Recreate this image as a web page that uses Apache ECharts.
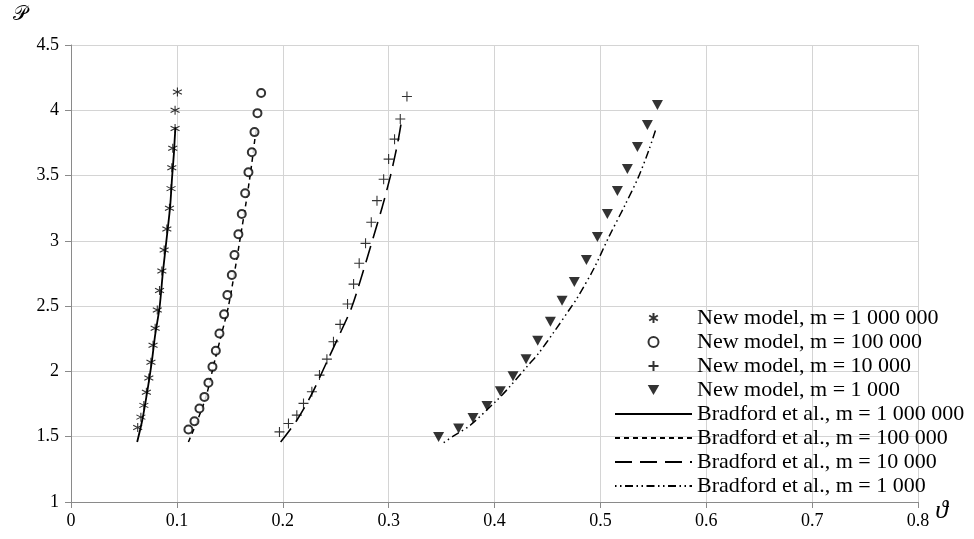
<!DOCTYPE html>
<html>
<head>
<meta charset="utf-8">
<script src="https://cdn.jsdelivr.net/npm/echarts@6/dist/echarts.min.js"></script>
<style>
  html, body { margin: 0; padding: 0; background: #fff; }
  #chart { width: 974px; height: 539px; }
</style>
</head>
<body>
<div id="chart"></div>
<script>
// Axis ticks
const xTicks = [0, 0.1, 0.2, 0.3, 0.4, 0.5, 0.6, 0.7, 0.8];
const yTicks = [1, 1.5, 2, 2.5, 3, 3.5, 4, 4.5];

// New model points (theta, P)
const star1e6Theta = [0.0630, 0.0660, 0.0688, 0.0712, 0.0735, 0.0755, 0.0775, 0.0795, 0.0815, 0.0836, 0.0858, 0.0880, 0.0905, 0.0930, 0.0945, 0.0952, 0.0961, 0.0983, 0.0983, 0.1005];
const star1e6P = [1.57, 1.65, 1.74, 1.84, 1.95, 2.07, 2.20, 2.33, 2.47, 2.62, 2.77, 2.93, 3.09, 3.25, 3.40, 3.56, 3.71, 3.86, 4.00, 4.14];

const circ1e5Theta = [0.1109, 0.1166, 0.1213, 0.1260, 0.1298, 0.1336, 0.1368, 0.1402, 0.1446, 0.1477, 0.1519, 0.1544, 0.1581, 0.1613, 0.1645, 0.1676, 0.1708, 0.1733, 0.1761, 0.1796];
const circ1e5P = [1.555, 1.619, 1.716, 1.805, 1.913, 2.035, 2.158, 2.291, 2.437, 2.585, 2.739, 2.892, 3.051, 3.206, 3.365, 3.526, 3.679, 3.833, 3.978, 4.132];

const plus1e4Theta = [0.1969, 0.2054, 0.2133, 0.2196, 0.2275, 0.2347, 0.2417, 0.2479, 0.2542, 0.2612, 0.2669, 0.2722, 0.2782, 0.2836, 0.2890, 0.2953, 0.3000, 0.3056, 0.3110, 0.3173];
const plus1e4P = [1.537, 1.601, 1.665, 1.755, 1.844, 1.972, 2.094, 2.227, 2.360, 2.516, 2.669, 2.828, 2.981, 3.143, 3.308, 3.472, 3.626, 3.779, 3.933, 4.106];

const tri1e3Theta = [0.3472, 0.3661, 0.3797, 0.3929, 0.4055, 0.4175, 0.4298, 0.4408, 0.4528, 0.4638, 0.4754, 0.4868, 0.4972, 0.5066, 0.5161, 0.5255, 0.5350, 0.5444, 0.5539];
const tri1e3P = [1.498, 1.563, 1.644, 1.736, 1.849, 1.964, 2.094, 2.235, 2.380, 2.541, 2.685, 2.853, 3.029, 3.205, 3.381, 3.550, 3.719, 3.888, 4.041];

// Bradford et al. curves (theta, P)
const brad1e6Theta = [0.0625, 0.0673, 0.0715, 0.0763, 0.0795, 0.0837, 0.0868, 0.0905, 0.0936, 0.0955, 0.0972, 0.0980, 0.0987];
const brad1e6P = [1.46, 1.626, 1.82, 2.074, 2.28, 2.495, 2.76, 3.03, 3.26, 3.49, 3.67, 3.787, 3.87];

const brad1e5Theta = [0.1109, 0.1195, 0.1280, 0.1355, 0.1420, 0.1486, 0.1545, 0.1600, 0.1647, 0.1690, 0.1720, 0.1738, 0.1755];
const brad1e5P = [1.46, 1.626, 1.82, 2.074, 2.28, 2.495, 2.76, 3.03, 3.26, 3.49, 3.67, 3.787, 3.87];

const brad1e4Theta = [0.1980, 0.2133, 0.2270, 0.2417, 0.2535, 0.2653, 0.2757, 0.2857, 0.2940, 0.3015, 0.3065, 0.3094, 0.3122];
const brad1e4P = [1.46, 1.626, 1.82, 2.074, 2.28, 2.495, 2.76, 3.032, 3.26, 3.49, 3.67, 3.787, 3.92];

const brad1e3Theta = [0.3520, 0.3614, 0.3771, 0.4023, 0.4143, 0.4313, 0.4411, 0.4559, 0.4711, 0.4779, 0.4940, 0.5080, 0.5230, 0.5360, 0.5460, 0.5530];
const brad1e3P = [1.455, 1.506, 1.588, 1.780, 1.882, 2.043, 2.133, 2.299, 2.478, 2.560, 2.790, 3.030, 3.270, 3.490, 3.700, 3.870];

const names = [
  'New model, m = 1 000 000',
  'New model, m = 100 000',
  'New model, m = 10 000',
  'New model, m = 1 000',
  'Bradford et al., m = 1 000 000',
  'Bradford et al., m = 100 000',
  'Bradford et al., m = 10 000',
  'Bradford et al., m = 1 000'
];

const pairs = (xs, ys) => xs.map((x, i) => [x, ys[i]]);

const serif = "'Liberation Serif', 'DejaVu Serif', serif";
const axisGray = '#8a8a8a';
const gridGray = '#d4d4d4';

const asterisk = 'path://M0,-5L0,5M-4.33,-2.5L4.33,2.5M-4.33,2.5L4.33,-2.5';
const plusMark = 'path://M-5,0L5,0M0,-5L0,5';
const downTri = 'path://M0,0L10,0L5,8.66Z';

// legend entries for the curves show only the stroke
const lineEntry = name => ({ name, itemStyle: { opacity: 0 } });

const chart = echarts.init(document.getElementById('chart'), null, { renderer: 'canvas' });

chart.setOption({
  animation: false,
  backgroundColor: '#fff',
  grid: { left: 71, right: 56, top: 45, bottom: 37 },
  xAxis: {
    type: 'value',
    min: xTicks[0],
    max: xTicks[xTicks.length - 1],
    interval: 0.1,
    name: 'ϑ',
    nameLocation: 'end',
    nameGap: 12,
    nameTextStyle: { fontFamily: serif, fontStyle: 'italic', fontSize: 26, lineHeight: 26, color: '#000', verticalAlign: 'top', padding: [-4, 0, 0, 0] },
    axisLine: { lineStyle: { color: axisGray, width: 1 } },
    axisTick: { show: true, length: 6, lineStyle: { color: axisGray } },
    axisLabel: { color: '#000', fontFamily: serif, fontSize: 18, margin: 10 },
    splitLine: { show: true, lineStyle: { color: gridGray, width: 1 } }
  },
  yAxis: {
    type: 'value',
    min: yTicks[0],
    max: yTicks[yTicks.length - 1],
    interval: 0.5,
    name: '𝒫',
    nameLocation: 'end',
    nameGap: 20,
    nameTextStyle: { fontFamily: "'DejaVu Sans', 'Noto Sans', serif", fontSize: 20, color: '#000', align: 'right', padding: [0, 44, 0, 0] },
    axisLine: { show: true, lineStyle: { color: axisGray, width: 1 } },
    axisTick: { show: true, length: 6, lineStyle: { color: axisGray } },
    axisLabel: { color: '#000', fontFamily: serif, fontSize: 18, margin: 12 },
    splitLine: { show: true, lineStyle: { color: gridGray, width: 1 } }
  },
  legend: {
    orient: 'vertical',
    left: 609,
    top: 302,
    itemWidth: 77,
    itemHeight: 10,
    itemGap: 2,
    textStyle: { fontFamily: serif, fontSize: 22, lineHeight: 21, color: '#000' },
    data: [
      { name: names[0], icon: asterisk },
      { name: names[1], icon: 'emptyCircle' },
      { name: names[2], icon: plusMark },
      { name: names[3], icon: downTri },
      lineEntry(names[4]), lineEntry(names[5]), lineEntry(names[6]), lineEntry(names[7])
    ]
  },
  series: [
    {
      name: names[0], type: 'scatter', symbol: asterisk, symbolSize: 9,
      itemStyle: { color: '#000', borderColor: '#000', borderWidth: 1.1 },
      data: pairs(star1e6Theta, star1e6P), z: 5
    },
    {
      name: names[1], type: 'scatter', symbol: 'emptyCircle', symbolSize: 8,
      itemStyle: { color: '#000', borderColor: '#000', borderWidth: 2 },
      data: pairs(circ1e5Theta, circ1e5P), z: 5
    },
    {
      name: names[2], type: 'scatter', symbol: plusMark, symbolSize: 10,
      itemStyle: { color: '#000', borderColor: '#000', borderWidth: 1.1 },
      data: pairs(plus1e4Theta, plus1e4P), z: 5
    },
    {
      name: names[3], type: 'scatter', symbol: downTri, symbolSize: [11, 10],
      itemStyle: { color: '#000', borderColor: '#000', borderWidth: 0 },
      data: pairs(tri1e3Theta, tri1e3P), z: 5
    },
    {
      name: names[4], type: 'line', smooth: 0.3, symbol: 'none',
      itemStyle: { color: '#000' },
      lineStyle: { color: '#000', width: 1.8, type: 'solid' },
      data: pairs(brad1e6Theta, brad1e6P)
    },
    {
      name: names[5], type: 'line', smooth: 0.3, symbol: 'none',
      itemStyle: { color: '#000' },
      lineStyle: { color: '#000', width: 1.5, type: [5, 4] },
      data: pairs(brad1e5Theta, brad1e5P)
    },
    {
      name: names[6], type: 'line', smooth: 0.3, symbol: 'none',
      itemStyle: { color: '#000' },
      lineStyle: { color: '#000', width: 1.6, type: [17, 8] },
      data: pairs(brad1e4Theta, brad1e4P)
    },
    {
      name: names[7], type: 'line', smooth: 0.3, symbol: 'none',
      itemStyle: { color: '#000' },
      lineStyle: { color: '#000', width: 1.5, type: [1.5, 3.5, 1.5, 3.5, 8, 3.5] },
      data: pairs(brad1e3Theta, brad1e3P)
    }
  ]
});
</script>
</body>
</html>
